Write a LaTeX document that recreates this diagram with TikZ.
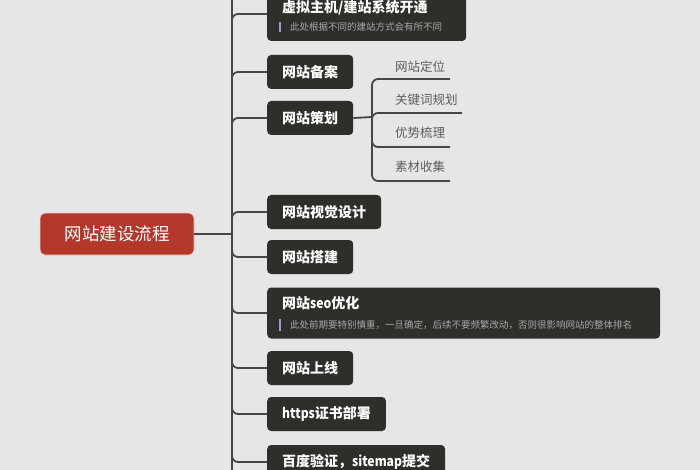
\documentclass[tikz,border=0pt]{standalone}
\usepackage{fontspec}
\newfontfamily\cjk{Noto Sans CJK SC}
\definecolor{bg}{HTML}{E6E6E6}
\definecolor{boxc}{HTML}{2E2E2B}
\definecolor{linec}{HTML}{474747}
\definecolor{rootc}{HTML}{B3382B}
\definecolor{rootb}{HTML}{F2CDBE}
\definecolor{subc}{HTML}{A8A8A8}
\definecolor{barc}{HTML}{9C9CCB}
\definecolor{leafc}{HTML}{5E5E5E}
\newcommand{\narrowlat}[1]{\scalebox{0.87}[1]{#1}}
\tikzset{
  conn/.style={draw=linec, line width=1.8pt, rounded corners=6pt},
  box/.style={fill=boxc, rounded corners=4pt, anchor=west, minimum height=34pt, inner xsep=15pt, inner ysep=0pt, text=white, font=\cjk\bfseries\fontsize{14}{16}\selectfont},
  bigbox/.style={fill=boxc, rounded corners=4pt, anchor=west, inner sep=0pt},
  ttl/.style={anchor=west, inner sep=0pt, text=white, font=\cjk\bfseries\fontsize{14}{16}\selectfont},
  note/.style={anchor=west, inner sep=0pt, text=subc, font=\cjk\fontsize{9.5}{11}\selectfont},
  leaf/.style={anchor=west, inner sep=0pt, text=leafc, font=\cjk\fontsize{12.5}{14}\selectfont},
  rootbox/.style={fill=rootc, draw=rootb, line width=0.8pt, rounded corners=5pt, minimum width=154pt, minimum height=42pt, text=white, font=\cjk\fontsize{17.5}{20}\selectfont},
}
\begin{document}
\begin{tikzpicture}[x=1pt,y=-1pt]
\useasboundingbox (0,0) rectangle (700,470);
\fill[bg] (0,0) rectangle (700,470);
\begin{scope}
\clip (0,0) rectangle (700,470);
% root
\node[rootbox] (root) at (117,234) {网站建设流程};
% trunk
\coordinate (J) at (232,234);
\coordinate (ttop) at (232,-20);
\coordinate (tbot) at (232,490);
\draw[conn] (ttop) -- (tbot);
\draw[conn] (root.east) -- (J);
% branch nodes
\node[bigbox, minimum width=199pt, minimum height=54pt] (b1) at (267,14) {};
\node[ttl] (b1t) at ([xshift=15pt,yshift=6pt]b1.west) {虚拟主机/建站系统开通};
\node[note] (b1n) at ([xshift=23pt,yshift=-13pt]b1.west) {此处根据不同的建站方式会有所不同};
\draw[barc, line width=1.5pt] ([xshift=-10pt,yshift=5pt]b1n.west) -- ([xshift=-10pt,yshift=-5pt]b1n.west);
\node[box] (b2) at (267,72) {网站备案};
\node[box] (b3) at (267,118) {网站策划};
\node[box] (b4) at (267,212) {网站视觉设计};
\node[box] (b5) at (267,257) {网站搭建};
\node[bigbox, minimum width=393pt, minimum height=51pt] (b6) at (267,313) {};
\node[ttl] (b6t) at ([xshift=15pt,yshift=10pt]b6.west) {网站\narrowlat{seo}优化};
\node[note] (b6n) at ([xshift=23pt,yshift=-12pt]b6.west) {此处前期要特别慎重，一旦确定，后续不要频繁改动，否则很影响网站的整体排名};
\draw[barc, line width=1.5pt] ([xshift=-10pt,yshift=6pt]b6n.west) -- ([xshift=-10pt,yshift=-6pt]b6n.west);
\node[box] (b7) at (267,368) {网站上线};
\node[box] (b8) at (267,414) {\narrowlat{https}证书部署};
\node[box] (b9) at (267,462) {百度验证，\narrowlat{sitemap}提交};
% branches
\foreach \n in {b1,b2,b3,b4,b5,b6,b7,b8,b9}
  \draw[conn] (J) |- (\n.west);
% sub branch of b3
\coordinate (K) at (372,117);
\draw[conn] (b3.east) -- (K);
\node[leaf] (l1) at (395,67) {网站定位};
\node[leaf] (l2) at (395,100) {关键词规划};
\node[leaf] (l3) at (395,133) {优势梳理};
\node[leaf] (l4) at (395,167) {素材收集};
\coordinate (e1) at (450,79);
\coordinate (e2) at (462,113);
\coordinate (e3) at (450,147);
\coordinate (e4) at (450,181);
\foreach \e in {e1,e2,e3,e4}
  \draw[conn] (K) |- (\e);
\end{scope}
\end{tikzpicture}
\end{document}
